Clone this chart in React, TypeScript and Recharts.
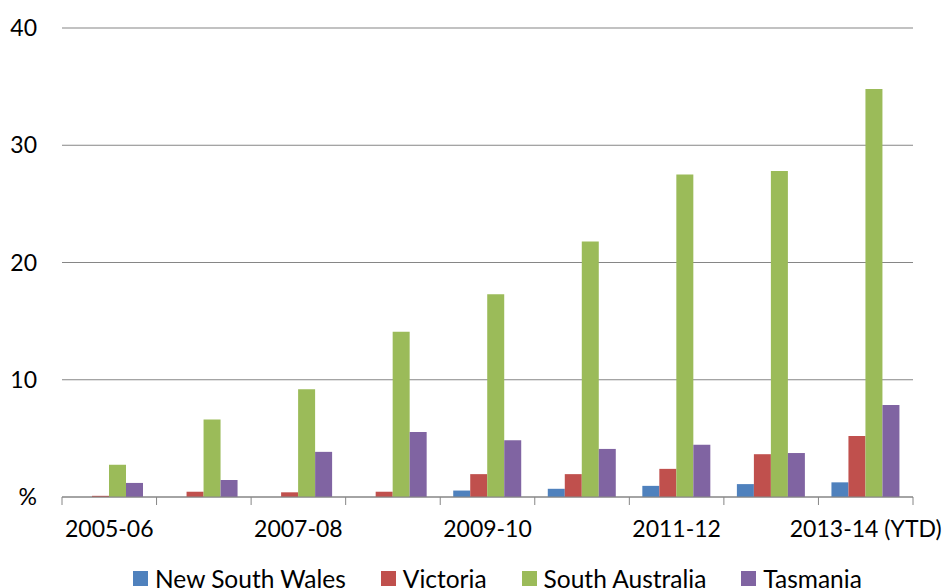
import React from "react";
import { BarChart, Bar, XAxis, YAxis, CartesianGrid, Legend } from "recharts";

const categories = ["2005-06", "2006-07", "2007-08", "2008-09", "2009-10", "2010-11", "2011-12", "2012-13", "2013-14 (YTD)"];
const newSouthWales = [0, 0, 0, 0, 0.55, 0.7, 0.95, 1.1, 1.25];
const victoria = [0.1, 0.45, 0.4, 0.45, 1.95, 1.95, 2.4, 3.65, 5.2];
const southAustralia = [2.75, 6.6, 9.2, 14.1, 17.3, 21.8, 27.5, 27.8, 34.8];
const tasmania = [1.2, 1.45, 3.85, 5.55, 4.85, 4.1, 4.45, 3.75, 7.85];
const yTicks = [0, 10, 20, 30, 40];

const series = [
  { key: "nsw", name: "New South Wales", values: newSouthWales, color: "#4F81BD" },
  { key: "vic", name: "Victoria", values: victoria, color: "#C0504D" },
  { key: "sa", name: "South Australia", values: southAustralia, color: "#9BBB59" },
  { key: "tas", name: "Tasmania", values: tasmania, color: "#8064A2" },
];

const data = categories.map((c, i) => {
  const row: Record<string, string | number> = { name: c };
  series.forEach(s => (row[s.key] = s.values[i]));
  return row;
});

const W = 945;
const H = 588;
const LEFT = 62;
const RIGHT = 32;
const BAND = (W - LEFT - RIGHT) / categories.length;
const FONT = "Lato, 'Liberation Sans', sans-serif";
const GREY = "#868686";

const XTick = (props: any) => {
  const { x, y, payload, index } = props;
  return (
    <g>
      <line x1={x - BAND / 2} x2={x - BAND / 2} y1={y} y2={y + 8} stroke={GREY} />
      {index === categories.length - 1 && (
        <line x1={x + BAND / 2} x2={x + BAND / 2} y1={y} y2={y + 8} stroke={GREY} />
      )}
      {index % 2 === 0 && (
        <text x={x} y={y + 40} textAnchor="middle" fontSize={23} fontFamily={FONT} fill="#000">
          {payload.value}
        </text>
      )}
    </g>
  );
};

const YTick = (props: any) => {
  const { x, y, payload } = props;
  return (
    <text x={x} y={y + 8} textAnchor="end" fontSize={23} fontFamily={FONT} fill="#000">
      {payload.value === 0 ? "%" : payload.value}
    </text>
  );
};

const LegendContent = () => (
  <div style={{ height: 30, display: "flex", alignItems: "center", paddingLeft: 133, fontFamily: FONT, fontSize: 24.5, color: "#000", whiteSpace: "nowrap" }}>
    {series.map(s => (
      <div key={s.key} style={{ display: "flex", alignItems: "center", marginRight: 35 }}>
        <span style={{ width: 15, height: 15, background: s.color, display: "inline-block", marginRight: 7 }} />
        <span>{s.name}</span>
      </div>
    ))}
  </div>
);

export default function App() {
  return (
    <div style={{ position: "absolute", left: 0, top: 0, width: W, height: H, background: "#fff", overflow: "hidden" }}>
      <BarChart width={W} height={H} data={data} margin={{ top: 28, right: RIGHT, left: 0, bottom: 11 }} barCategoryGap={13} barGap={0}>
        <CartesianGrid horizontal vertical={false} stroke={GREY} strokeWidth={1.2} />
        <XAxis dataKey="name" interval={0} height={50} tickSize={0} tickMargin={0} tickLine={false} axisLine={{ stroke: GREY }} tick={<XTick />} />
        <YAxis width={LEFT} domain={[0, 40]} ticks={yTicks} axisLine={false} tickLine={false} tickSize={0} tickMargin={25} tick={<YTick />} />
        <Legend verticalAlign="bottom" content={<LegendContent />} wrapperStyle={{ left: 0, width: W, top: 563 }} />
        {series.map(s => (
          <Bar key={s.key} dataKey={s.key} name={s.name} fill={s.color} isAnimationActive={false} />
        ))}
      </BarChart>
    </div>
  );
}
